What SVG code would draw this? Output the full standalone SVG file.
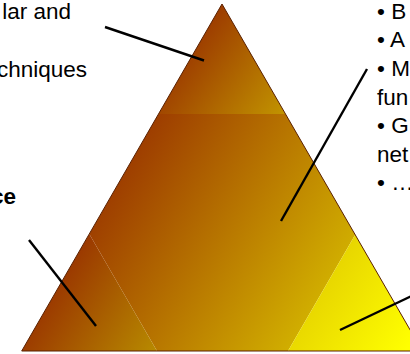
<svg xmlns="http://www.w3.org/2000/svg" width="410" height="354" viewBox="0 0 410 354">
  <defs>
    <linearGradient id="gTop" gradientUnits="userSpaceOnUse" x1="180" y1="40" x2="290" y2="120">
      <stop offset="0" stop-color="#993300"/>
      <stop offset="1" stop-color="#C49A00"/>
    </linearGradient>
    <linearGradient id="gHex" gradientUnits="userSpaceOnUse" x1="110" y1="150" x2="350" y2="300">
      <stop offset="0" stop-color="#993300"/>
      <stop offset="1" stop-color="#D6BA00"/>
    </linearGradient>
    <linearGradient id="gBL" gradientUnits="userSpaceOnUse" x1="50" y1="280" x2="160" y2="350">
      <stop offset="0" stop-color="#993300"/>
      <stop offset="1" stop-color="#B88C00"/>
    </linearGradient>
    <linearGradient id="gBR" gradientUnits="userSpaceOnUse" x1="300" y1="270" x2="410" y2="345">
      <stop offset="0" stop-color="#E2CC00"/>
      <stop offset="1" stop-color="#FFFF00"/>
    </linearGradient>
  </defs>
  <style>
    .t { font-family: "Liberation Sans", Arial, sans-serif; font-size: 22.5px; fill: #000; }
    .b { font-weight: bold; }
    .c { stroke: #000; stroke-width: 2.4; fill: none; }
    .edge { fill: none; stroke: #5a2000; stroke-width: 1; }
  </style>

  <g id="pyramid">
    <g id="segment-top"><polygon points="222,4 285.5,114 158.5,114" fill="url(#gTop)"/></g>
    <g id="segment-middle"><polygon points="158.5,114 285.5,114 355.2,234.7 288,351 157,351 89.3,233.9" fill="url(#gHex)"/></g>
    <g id="segment-bottom-left"><polygon points="89.3,233.9 157,351 21.7,351" fill="url(#gBL)"/></g>
    <g id="segment-bottom-right"><polygon points="355.2,234.7 422.3,351 288,351" fill="url(#gBR)"/></g>
    <polygon class="edge" points="222,4 422.3,351 21.7,351"/>
  </g>

  <g id="connectors">
    <line class="c" x1="105" y1="27" x2="204" y2="60.5"/>
    <line class="c" x1="367" y1="69" x2="281" y2="221"/>
    <line class="c" x1="340" y1="330" x2="422" y2="291"/>
    <line class="c" x1="29" y1="240" x2="96" y2="326"/>
  </g>

  <g id="label-top-left">
    <text class="t" x="71" y="19" text-anchor="end">lar and</text>
    <text class="t" x="87" y="77" text-anchor="end">chniques</text>
  </g>
  <g id="label-left">
    <text class="t b" x="16" y="204" text-anchor="end">ce</text>
  </g>
  <g id="label-right">
    <text class="t" x="377" y="19">• B</text>
    <text class="t" x="377" y="47">• A</text>
    <text class="t" x="377" y="76">• M</text>
    <text class="t" x="377" y="105">fun</text>
    <text class="t" x="377" y="133">• G</text>
    <text class="t" x="377" y="162">net</text>
    <text class="t" x="377" y="190">• …</text>
  </g>
</svg>
